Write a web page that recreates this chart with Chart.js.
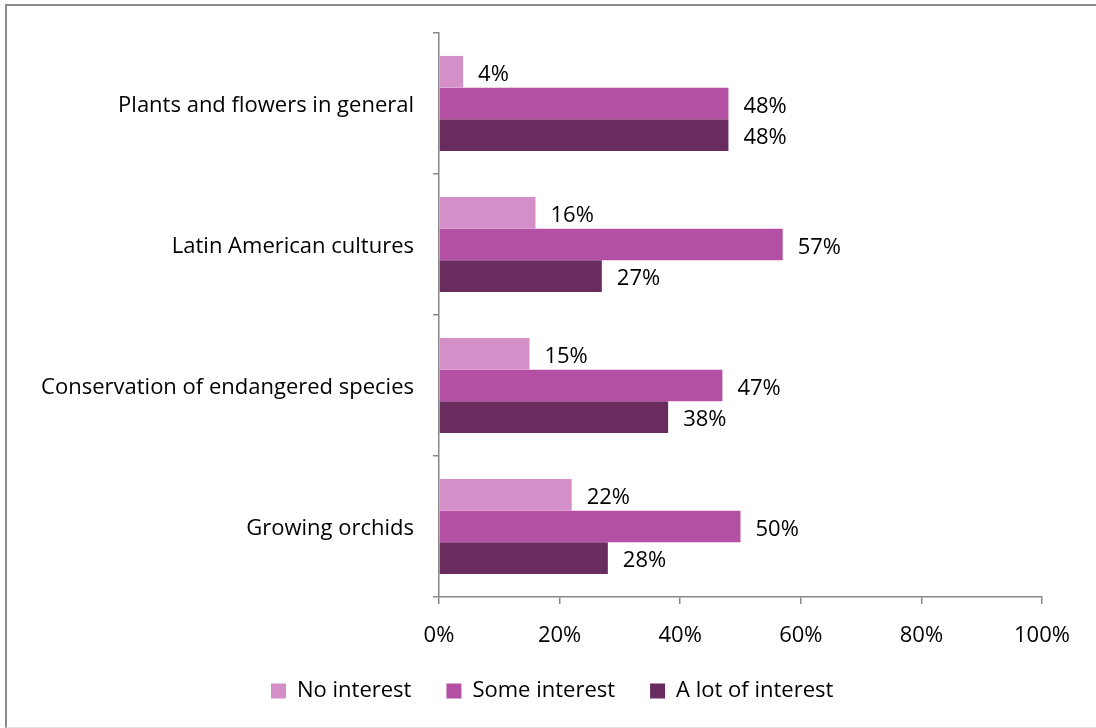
<!DOCTYPE html>
<html>
<head>
<meta charset="utf-8">
<script src="https://cdn.jsdelivr.net/npm/chart.js@4"></script>
<style>
body{margin:0;background:#fff;}
#wrap{position:relative;width:1096px;height:728px;}
#frame{position:absolute;left:5px;top:4px;right:-10px;bottom:0;border-left:2px solid #8a8a8a;border-top:2px solid #8a8a8a;border-bottom:1px solid #e0e0e0;}
canvas{position:absolute;left:0;top:0;}
</style>
</head>
<body>
<div id="wrap">
<div id="frame"></div>
<canvas id="chart" width="1096" height="728"></canvas>
</div>
<script>
let categories=["Plants and flowers in general","Latin American cultures","Conservation of endangered species","Growing orchids"]
let noInterest=[4,16,15,22]
let someInterest=[48,57,47,50]
let lotInterest=[48,27,38,28]
let xTicks=[0,20,40,60,80,100]

let font={family:"'Open Sans', sans-serif",size:22}

// labels to the right of every bar
let valueLabels={
id:"valueLabels",
afterDatasetsDraw(chart){
let ctx=chart.ctx
ctx.save()
ctx.font="22px 'Open Sans', sans-serif"
ctx.fillStyle="#000"
ctx.textAlign="left"
ctx.textBaseline="middle"
chart.data.datasets.forEach((ds,i)=>{
chart.getDatasetMeta(i).data.forEach((bar,j)=>{
ctx.fillText(ds.data[j]+"%",bar.x+15,bar.y+3)
})
})
ctx.restore()
}
}

// put the legend where the original sits
let moveLegend={
id:"moveLegend",
afterLayout(chart){
let lg=chart.legend
let h=lg.height
lg.left=271-35
lg.right=1000
lg.top=691-35-11
lg.bottom=lg.top+h
}
}

new Chart(document.getElementById("chart"),{
type:"bar",
data:{
labels:categories,
datasets:[
{label:"No interest",data:noInterest,backgroundColor:"#d48fc8"},
{label:"Some interest",data:someInterest,backgroundColor:"#b350a3"},
{label:"A lot of interest",data:lotInterest,backgroundColor:"#682c5e"}
]
},
options:{
indexAxis:"y",
responsive:false,
animation:false,
categoryPercentage:0.675,
barPercentage:1,
layout:{padding:{top:33,right:54,bottom:4,left:0}},
scales:{
x:{
min:0,max:100,
afterBuildTicks(scale){scale.ticks=xTicks.map(v=>({value:v}))},
afterFit(scale){scale.height=60},
ticks:{callback:v=>v+"%",color:"#000",font:font,padding:19,maxRotation:0},
grid:{drawOnChartArea:false,tickLength:7,color:"#888",lineWidth:1.5},
border:{color:"#888",width:1.5}
},
y:{
afterFit(scale){scale.width=439},
ticks:{color:"#000",font:font,padding:19,labelOffset:2},
grid:{drawOnChartArea:false,tickLength:6,color:"#888",lineWidth:1.5},
border:{color:"#888",width:1.5}
}
},
plugins:{
legend:{
position:"bottom",
align:"start",
labels:{boxWidth:15,boxHeight:15,color:"#000",font:font,padding:35}
},
tooltip:{enabled:false}
}
},
plugins:[valueLabels,moveLegend]
})
</script>
</body>
</html>
